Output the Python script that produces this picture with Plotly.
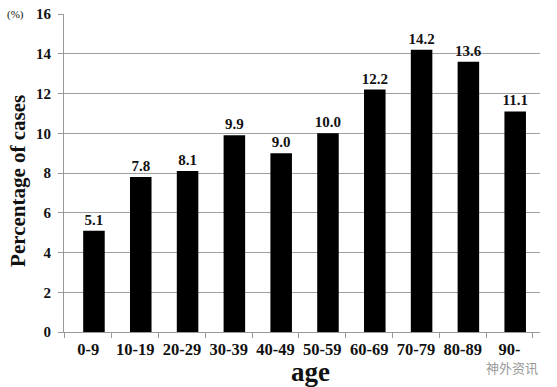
import plotly.graph_objects as go

age_groups = ["0-9", "10-19", "20-29", "30-39", "40-49", "50-59", "60-69", "70-79", "80-89", "90-"]
percentages = [5.1, 7.8, 8.1, 9.9, 9.0, 10.0, 12.2, 14.2, 13.6, 11.1]
value_labels = ["5.1", "7.8", "8.1", "9.9", "9.0", "10.0", "12.2", "14.2", "13.6", "11.1"]
y_ticks = [0, 2, 4, 6, 8, 10, 12, 14, 16]

serif = "Liberation Serif"
bar_w = 0.46

fig = go.Figure(go.Bar(
    x=age_groups, y=percentages,
    marker=dict(color="black", line=dict(width=0)),
    width=bar_w, offset=-bar_w / 2 + 0.12,
    text=value_labels, textposition="outside", constraintext="none",
    textfont=dict(family=serif, size=15, color="#111", weight="bold"),
    cliponaxis=False,
))

fig.update_layout(
    width=557, height=387,
    margin=dict(l=64, r=17, t=14, b=55, autoexpand=False),
    paper_bgcolor="white", plot_bgcolor="white",
    font=dict(family=serif, color="#111"),
    showlegend=False,
    xaxis=dict(
        range=[-0.52, 9.65], automargin=False,
        showline=True, linecolor="#999", linewidth=1,
        ticks="outside", ticklen=5, tickcolor="#999",
        tickson="boundaries", ticklabelstandoff=2, tickangle=0,
        tickfont=dict(family=serif, size=16.5, color="#111", weight="bold"),
        showgrid=False,
    ),
    yaxis=dict(
        range=[0, 16], tickvals=y_ticks, automargin=False,
        showline=True, linecolor="#999", linewidth=1,
        ticks="outside", ticklen=5, tickcolor="#999",
        ticklabelstandoff=4,
        showgrid=True, gridcolor="#a0a0a0", gridwidth=1,
        zeroline=False,
        tickfont=dict(family=serif, size=15, color="#111", weight="bold"),
    ),
    annotations=[
        dict(text="Percentage of cases", textangle=-90, x=0, y=0.475, xref="paper", yref="paper",
             xanchor="center", yanchor="middle", xshift=-46, showarrow=False,
             font=dict(family=serif, size=21, color="#111", weight="bold")),
        dict(text="age", x=0.5, y=0, xref="paper", yref="paper", xanchor="center", yanchor="middle",
             xshift=8, yshift=-40, showarrow=False,
             font=dict(family=serif, size=27, color="#111", weight="bold")),
        dict(text="(%)", x=0, y=16, xref="paper", yref="y", xanchor="center", yanchor="middle",
             xshift=-49, showarrow=False, font=dict(family=serif, size=11, color="#111")),
        dict(text="神外资讯", x=1, y=0, xref="paper", yref="paper", xanchor="right", yanchor="middle",
             xshift=0, yshift=-35, showarrow=False,
             font=dict(family="Noto Sans CJK SC", size=13, color="#999")),
    ],
)

fig.write_html("out.html", config={"displayModeBar": False},
               post_script="document.body.style.margin='0';document.body.style.overflow='hidden';")
